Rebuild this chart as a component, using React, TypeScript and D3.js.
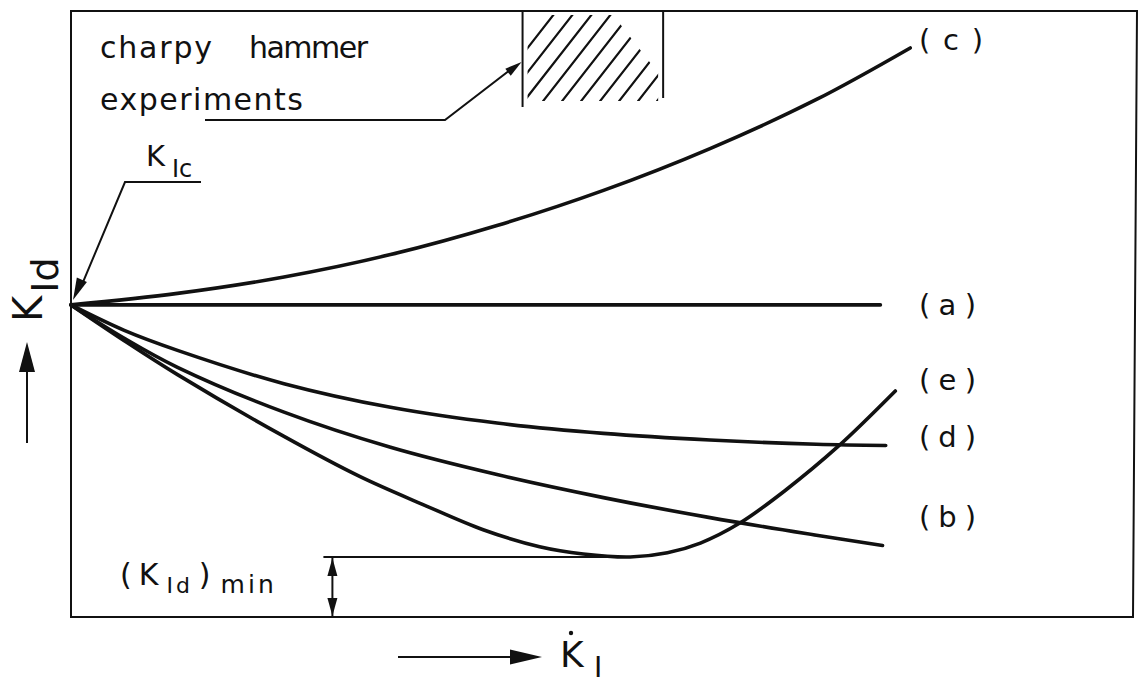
import React from 'react';
import * as d3 from 'd3';

// Dynamic fracture toughness K_Id versus loading rate dK_I/dt (schematic curves a–e)
const W = 1144;
const H = 685;

const KIC = 51.5; // static toughness, common origin of all curves
const KID_MIN = 9.9; // minimum of curve (e)

type Pt = [number, number];

const curveA: Pt[] = [[0, KIC], [76.0, KIC]];
const curveC: Pt[] = [[0, KIC], [10, 53.4], [20, 56.1], [30, 59.8], [40, 64.6], [50, 70.4], [60, 77.3], [70, 85.4], [78.8, 93.9]];
const curveD: Pt[] = [[0, KIC], [5, 47.3], [10, 44.0], [20, 38.5], [30, 34.6], [40, 32.0], [50, 30.3], [60, 29.2], [70, 28.5], [76.5, 28.3]];
const curveB: Pt[] = [[0, KIC], [5, 46.0], [10, 41.2], [20, 33.8], [30, 28.0], [40, 23.5], [50, 19.7], [60, 16.4], [70, 13.5], [76.2, 11.8]];
const curveE: Pt[] = [[0, KIC], [5, 45.6], [10, 40.0], [20, 29.8], [27.1, 23.2], [33, 18.6], [38.7, 14.4], [44, 11.6], [48.1, 10.4], [52.5, KID_MIN], [56, 10.6], [59.1, 12.2], [62.8, 15.5], [67, 20.8], [72, 28.1], [77.4, 37.3]];

const curveNames = ['(c)', '(a)', '(e)', '(d)', '(b)'];
const curveSeries = [curveC, curveA, curveE, curveD, curveB];

// charpy hammer range on the rate axis
const charpyRange: [number, number] = [42.4, 55.6];
const minLineStart = 23.7;
const minAt = 52.5;

const annotationWords = ['charpy', 'hammer', 'experiments'];

export default function App() {
  const left = 71, right = 1136, top = 11, bottom = 617;
  const x = d3.scaleLinear().domain([0, 100]).range([left, right]);
  const y = d3.scaleLinear().domain([0, 100]).range([bottom, top]);
  const line = d3.line<Pt>().x(d => x(d[0])).y(d => y(d[1])).curve(d3.curveCatmullRom.alpha(0.5));

  const font = 'DejaVu Sans, sans-serif';
  const ink = '#111';

  // vertical offset of each curve label from its curve's end point
  const labelDy = [-8, 0, -11, -9, -29];
  const labelX = 919;

  const hx0 = x(charpyRange[0]);
  const hx1 = x(charpyRange[1]);
  const hatchLines: React.ReactElement[] = [];
  for (let i = 0; i < 12; i++) {
    const bx = hx0 - 45 + i * 19;
    hatchLines.push(
      <line key={i} x1={bx} y1={112} x2={bx + 90} y2={112 - 90 * 1.28} stroke={ink} strokeWidth={2.2} strokeLinecap="round" />
    );
  }

  const tri = (tx: number, ty: number, ang: number, len: number, half: number) => {
    const ca = Math.cos(ang), sa = Math.sin(ang);
    const bx = tx - ca * len, by = ty - sa * len;
    return `M${tx},${ty}L${bx - sa * half},${by + ca * half}L${bx + sa * half},${by - ca * half}Z`;
  };

  const yMin = y(KID_MIN);
  const xMin = x(minLineStart);
  const arrowX = xMin + 9;
  const ox = x(0), oy = y(KIC);

  return (
    <svg width={W} height={H} style={{ position: 'absolute', left: 0, top: 0, background: '#fff' }} fontFamily={font}>
      <rect width={W} height={H} fill="#fff" />
      {/* frame */}
      <path d={`M${left},${top}L${right + 1},${top}L${right - 3},${bottom}L${left},${bottom}Z`} fill="none" stroke={ink} strokeWidth={2} />

      {/* hatched charpy region */}
      <clipPath id="hatchClip">
        <path d={`M${hx0 + 5},${top + 4}L${hx1 - 50},${top + 4}L${hx1 - 5},${top + 62}L${hx1 - 5},${top + 90}L${hx0 + 5},${top + 90}Z`} />
      </clipPath>
      <g clipPath="url(#hatchClip)">{hatchLines}</g>
      <line x1={hx0} y1={top} x2={hx0} y2={107} stroke={ink} strokeWidth={2} />
      <line x1={hx1} y1={top} x2={hx1} y2={98} stroke={ink} strokeWidth={2} />

      {/* charpy annotation */}
      <text x={100} y={58} fontSize={30} fill={ink} textLength={112} lengthAdjust="spacing">{annotationWords[0]}</text>
      <text x={249} y={58} fontSize={30} fill={ink} textLength={119} lengthAdjust="spacing">{annotationWords[1]}</text>
      <text x={100} y={110} fontSize={30} fill={ink} textLength={203} lengthAdjust="spacing">{annotationWords[2]}</text>
      <polyline points={`205,120 445,120 ${hx0 - 10},68`} fill="none" stroke={ink} strokeWidth={2} />
      <path d={tri(hx0 - 1, 62, Math.atan2(62 - 120, hx0 - 1 - 445), 17, 4.5)} fill={ink} />

      {/* curves */}
      {curveSeries.map((s, i) => (
        <path key={curveNames[i]} d={line(s) || ''} fill="none" stroke={ink} strokeWidth={3.6} strokeLinecap="round" />
      ))}
      {curveSeries.map((s, i) => {
        const end = s[s.length - 1];
        const name = curveNames[i];
        return (
          <text key={'l' + name} x={labelX} y={y(end[1]) + labelDy[i]} dy="0.35em" fontSize={29} fill={ink}
            textLength={i === 0 ? 64 : 57} lengthAdjust="spacing">{`( ${name.slice(1, -1)} )`}</text>
        );
      })}

      {/* K_Ic pointer */}
      <text x={146} y={166} fontSize={29} fill={ink}>K<tspan fontSize={24} dy={11} dx={7}>Ic</tspan></text>
      <polyline points={`201,182 125,182 ${ox + 10},${oy - 18}`} fill="none" stroke={ink} strokeWidth={2} />
      <path d={tri(ox + 2, oy - 5, Math.atan2(oy - 5 - 182, ox + 2 - 125), 22, 5.5)} fill={ink} />

      {/* (K_Id)min dimension */}
      <line x1={xMin} y1={yMin} x2={x(minAt)} y2={yMin} stroke={ink} strokeWidth={2} />
      <line x1={arrowX} y1={yMin} x2={arrowX} y2={bottom} stroke={ink} strokeWidth={2} />
      <path d={tri(arrowX, yMin + 1, -Math.PI / 2, 18, 5)} fill={ink} />
      <path d={tri(arrowX, bottom - 1, Math.PI / 2, 18, 5)} fill={ink} />
      <text x={120} y={585} fontSize={30} fill={ink}>
        (<tspan dx={7}>K</tspan><tspan fontSize={22} dx={8} dy={8} letterSpacing={3}>Id</tspan><tspan dx={6} dy={-8}>)</tspan><tspan fontSize={25} dx={10} dy={8} letterSpacing={3}>min</tspan>
      </text>

      {/* y axis label */}
      <line x1={27} y1={443} x2={27} y2={370} stroke={ink} strokeWidth={2} />
      <path d={tri(27, 342, -Math.PI / 2, 30, 8)} fill={ink} />
      <text transform="translate(42,322) rotate(-90)" fontSize={40} fill={ink}>K<tspan fontSize={38} dx={3} dy={16}>Id</tspan></text>

      {/* x axis label */}
      <line x1={398} y1={657} x2={514} y2={657} stroke={ink} strokeWidth={2} />
      <path d={tri(542, 657, 0, 32, 7.5)} fill={ink} />
      <text x={560} y={667} fontSize={36} fill={ink}>K</text>
      <circle cx={571} cy={633} r={2.2} fill={ink} />
      <text x={594} y={677} fontSize={28} fill={ink}>I</text>
    </svg>
  );
}
